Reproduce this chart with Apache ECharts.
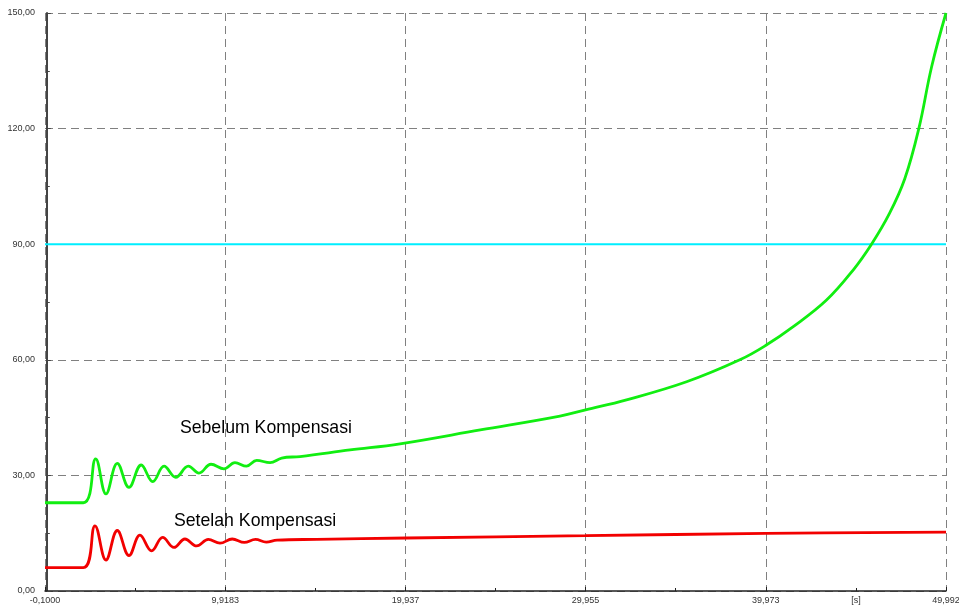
<!DOCTYPE html>
<html>
<head>
<meta charset="utf-8">
<script src="https://cdn.jsdelivr.net/npm/echarts@6/dist/echarts.min.js"></script>
<style>
  html, body { margin: 0; padding: 0; background: #fff; }
  #chart { width: 959px; height: 608px; }
</style>
</head>
<body>
<div id="chart"></div>
<script>
// waktu (s) dan nilai
var timeGreen = [-0.1, 2.03, 2.72, 3.29, 3.92, 4.57, 5.25, 5.89, 6.52, 7.17, 7.87, 8.46, 9.13, 9.85,
  10.46, 11.1, 11.67, 12.41, 13.06, 14.08, 16.86, 19.64, 24.1, 28.53, 29.955, 32.23, 35.57, 38.53,
  39.96, 41.5, 43.35, 44.83, 45.85, 46.85, 47.7, 48.48, 49.19, 49.992];
var valueGreen = [22.9, 22.9, 34.3, 25.2, 33.1, 26.9, 32.7, 28.4, 32.4, 29.5, 32.4, 30.6, 32.9, 31.7,
  33.3, 32.4, 33.9, 33.3, 34.5, 34.9, 36.6, 38.2, 41.8, 45.4, 47.0, 49.6, 54.3, 60.0,
  63.7, 68.6, 75.5, 83.3, 90.0, 98.0, 107.0, 120.0, 136.0, 150.0];

var timeRed = [-0.1, 2.03, 2.68, 3.29, 3.92, 4.57, 5.18, 5.83, 6.44, 7.07, 7.68, 8.33, 8.98, 9.63,
  10.31, 10.98, 11.6, 12.2, 12.8, 15.0, 20.0, 29.955, 39.973, 49.992];
var valueRed = [6.05, 6.05, 16.9, 8.05, 15.7, 9.2, 14.5, 10.4, 13.9, 11.3, 13.5, 11.7, 13.4, 12.4,
  13.5, 12.6, 13.4, 12.7, 13.2, 13.4, 13.75, 14.35, 14.95, 15.3];

var timeLimit = [-0.1, 49.992];
var valueLimit = [90, 90];

var xTickValues = [-0.1, 9.9183, 19.937, 29.955, 39.973, 49.992];
var xTickLabels = ["-0,1000", "9,9183", "19,937", "29,955", "39,973", "49,992"];
var xMinorValues = [4.909, 14.928, 24.946, 34.964, 44.983];
var unitLabel = "[s]";

function pairs(xs, ys) {
  return xs.map(function (x, i) { return [x, ys[i]]; });
}

var labelFont = {
  color: "#333",
  fontSize: 9,
  fontFamily: "Liberation Sans, Arial, sans-serif",
};

var chart = echarts.init(document.getElementById("chart"), null, { renderer: "canvas" });

var option = {
  animation: false,
  backgroundColor: "#fff",
  grid: {
    left: 45,
    right: 13,
    top: 13,
    bottom: 17,
    containLabel: false,
    outerBoundsMode: "none",
  },
  xAxis: [
    {
      type: "value",
      min: -0.1,
      max: 49.992,
      axisLine: { lineStyle: { color: "#222", width: 1.5 } },
      axisTick: {
        show: true,
        inside: true,
        length: 4,
        customValues: xTickValues,
        lineStyle: { color: "#222" },
      },
      axisLabel: Object.assign({
        margin: 5,
        customValues: xTickValues,
        formatter: function (v) {
          var i = xTickValues.indexOf(v);
          return i >= 0 ? xTickLabels[i] : "";
        },
      }, labelFont),
      splitLine: {
        show: true,
        lineStyle: { color: "#808080", type: [8, 5], width: 1 },
      },
    },
    {
      // hanya untuk tick kecil dan satuan [s]
      type: "value",
      position: "bottom",
      min: -0.1,
      max: 49.992,
      axisLine: { show: false },
      axisTick: {
        show: true,
        inside: true,
        length: 3,
        customValues: xMinorValues,
        lineStyle: { color: "#222" },
      },
      axisLabel: Object.assign({
        margin: 5,
        customValues: [xMinorValues[4]],
        formatter: function () { return unitLabel; },
      }, labelFont),
      splitLine: { show: false },
    },
  ],
  yAxis: {
    type: "value",
    min: 0,
    max: 150,
    interval: 30,
    axisLine: { show: true, lineStyle: { color: "#444", width: 2 } },
    axisTick: { show: true, inside: true, length: 4, lineStyle: { color: "#444" } },
    minorTick: { show: true, splitNumber: 2, length: 3, lineStyle: { color: "#444" } },
    axisLabel: Object.assign({
      margin: 10,
      formatter: function (v) { return v.toFixed(2).replace(".", ","); },
    }, labelFont),
    splitLine: {
      show: true,
      lineStyle: { color: "#808080", type: [8, 5], width: 1 },
    },
  },
  series: [
    {
      name: "Batas",
      type: "line",
      data: pairs(timeLimit, valueLimit),
      showSymbol: false,
      lineStyle: { color: "#00eeff", width: 2 },
      z: 2,
    },
    {
      name: "Sebelum Kompensasi",
      type: "line",
      data: pairs(timeGreen, valueGreen),
      showSymbol: false,
      smooth: 0.4,
      lineStyle: { color: "#11ee11", width: 2.8 },
      z: 3,
      markPoint: {
        symbolSize: 0,
        data: [{ coord: [7.4, 42.3], value: "Sebelum Kompensasi" }],
        label: {
          show: true,
          position: "right",
          distance: 0,
          formatter: "{c}",
          color: "#000",
          fontSize: 17.7,
          fontFamily: "Liberation Sans, Arial, sans-serif",
        },
      },
    },
    {
      name: "Setelah Kompensasi",
      type: "line",
      data: pairs(timeRed, valueRed),
      showSymbol: false,
      smooth: 0.4,
      lineStyle: { color: "#f20000", width: 2.8 },
      z: 3,
      markPoint: {
        symbolSize: 0,
        data: [{ coord: [7.07, 18.2], value: "Setelah Kompensasi" }],
        label: {
          show: true,
          position: "right",
          distance: 0,
          formatter: "{c}",
          color: "#000",
          fontSize: 17.7,
          fontFamily: "Liberation Sans, Arial, sans-serif",
        },
      },
    },
  ],
};

chart.setOption(option);
</script>
</body>
</html>
